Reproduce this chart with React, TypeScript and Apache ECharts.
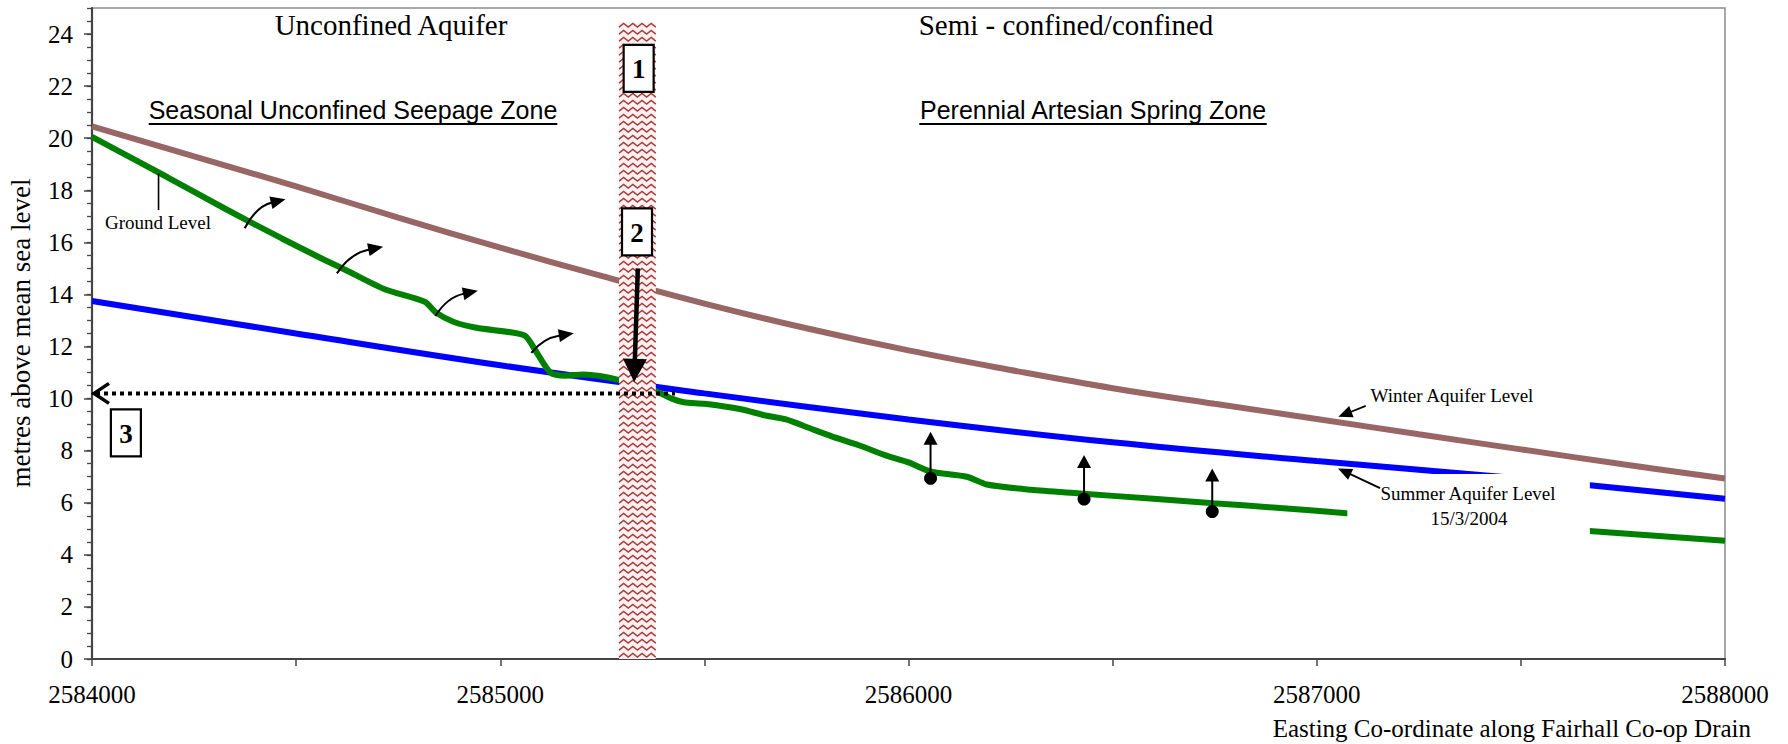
import React, { useEffect, useRef } from "react";
import * as echarts from "echarts";

// ---- axis ticks / labels ----
const xLabelValues = [2584000, 2585000, 2586000, 2587000, 2588000];
const yLabelValues = [0, 2, 4, 6, 8, 10, 12, 14, 16, 18, 20, 22, 24];

// ---- Winter aquifer level (brown) ----
const winterEasting = [2584000, 2584250, 2584500, 2584750, 2585000, 2585250, 2585500, 2585750, 2586000, 2586250, 2586500, 2586750, 2587000, 2587250, 2587500, 2587750, 2588000];
const winterLevel = [20.45, 19.3, 18.15, 16.95, 15.8, 14.7, 13.65, 12.7, 11.85, 11.1, 10.4, 9.8, 9.22, 8.63, 8.05, 7.48, 6.93];

// ---- Summer aquifer level 15/3/2004 (blue) ----
const summerEasting = [2584000, 2584500, 2585000, 2585500, 2586000, 2586500, 2587000, 2587500, 2588000];
const summerLevel = [13.75, 12.5, 11.28, 10.2, 9.2, 8.32, 7.6, 6.93, 6.15];

// ---- Ground level / drain (green) ----
const groundEasting = [2584000, 2584185, 2584325, 2584465, 2584560, 2584620, 2584717, 2584815, 2584843, 2584885, 2584941, 2585025, 2585062, 2585090, 2585123, 2585160, 2585203, 2585244, 2585289, 2585383, 2585420, 2585450, 2585500, 2585587, 2585650, 2585700, 2585760, 2585812, 2585880, 2585948, 2586000, 2586053, 2586143, 2586192, 2586300, 2586420, 2586600, 2586747, 2586910, 2587073, 2587668, 2588000];
const groundLevel = [20.05, 18.5, 17.3, 16.15, 15.4, 14.95, 14.2, 13.72, 13.3, 12.95, 12.72, 12.55, 12.4, 11.75, 11.0, 10.88, 10.93, 10.87, 10.72, 10.27, 10.0, 9.86, 9.8, 9.6, 9.35, 9.2, 8.85, 8.55, 8.2, 7.8, 7.55, 7.2, 7.0, 6.7, 6.5, 6.36, 6.15, 5.98, 5.8, 5.6, 4.92, 4.54];

// ---- annotations (data coordinates) ----
const bandFrom = [2585291];
const bandTo = [2585381];
const bandTop = [24.44];

const level3From = [2584000];
const level3To = [2585428];
const level3Value = [10.2];

const arrow2FromE = [2585337];
const arrow2FromV = [15.0];
const arrow2ToE = [2585328];
const arrow2ToV = [10.64];

const boxEasting = [2585339, 2585335, 2584083];
const boxLevel = [22.68, 16.4, 8.68];
const boxText = ["1", "2", "3"];

const riseEasting = [2586054, 2586430, 2586744];
const riseFrom = [6.94, 6.14, 5.66];
const riseTo = [8.73, 7.83, 7.32];

const curveFromE = [2584374, 2584600, 2584841, 2585076];
const curveFromV = [16.54, 14.81, 13.17, 11.76];
const curveToE = [2584474, 2584713, 2584945, 2585180];
const curveToV = [17.66, 15.83, 14.14, 12.51];

const calloutFromE = [2587120, 2587155];
const calloutFromV = [9.72, 6.56];
const calloutToE = [2587053, 2587052];
const calloutToV = [9.3, 7.32];

const groundCalloutE = [2584163];
const groundCalloutTop = [18.65];
const groundCalloutBottom = [17.24];

const maskFromE = [2587075];
const maskTop = [7.1];
const maskToE = [2587669];
const maskBottom = [4.4];

function headPoints(tx: number, ty: number, fx: number, fy: number, len: number, w: number) {
  const dx = tx - fx;
  const dy = ty - fy;
  const L = Math.hypot(dx, dy) || 1;
  const ux = dx / L;
  const uy = dy / L;
  const bx = tx - ux * len;
  const by = ty - uy * len;
  return {
    poly: [
      [tx, ty],
      [bx - (uy * w) / 2, by + (ux * w) / 2],
      [bx + (uy * w) / 2, by - (ux * w) / 2],
    ],
    base: [bx + ux * 1, by + uy * 1],
  };
}

function measure(text: string, font: string) {
  const c = document.createElement("canvas").getContext("2d");
  if (!c) return text.length * 12;
  c.font = font;
  return c.measureText(text).width;
}

export default function App() {
  const ref = useRef<HTMLDivElement>(null);

  useEffect(() => {
    if (!ref.current) return;
    const chart = echarts.init(ref.current, undefined, { renderer: "svg" });
    const serif = "Liberation Serif";
    const sans = "Liberation Sans";

    const zone1 = "Seasonal Unconfined Seepage Zone";
    const zone2 = "Perennial Artesian Spring Zone";
    const zoneFont = `25px "${sans}"`;
    const w1 = measure(zone1, zoneFont);
    const w2 = measure(zone2, zoneFont);
    const z1x = 353;
    const z2x = 1093;
    const zy = 110;

    const option: any = {
      animation: false,
      grid: {
        left: 92,
        right: 63,
        top: 8,
        bottom: 85,
        show: true,
        borderColor: "#8c8c8c",
        borderWidth: 1.5,
      },
      xAxis: {
        type: "value",
        min: 2584000,
        max: 2588000,
        interval: 500,
        axisLine: { show: true, onZero: false, lineStyle: { color: "#444", width: 2.2 } },
        axisTick: { show: true, length: 7, lineStyle: { color: "#444", width: 1.5 } },
        axisLabel: {
          customValues: xLabelValues,
          margin: 23,
          fontFamily: serif,
          fontSize: 25,
          color: "#000",
          formatter: (v: number) => String(v),
        },
        splitLine: { show: false },
      },
      yAxis: [
        {
          type: "value",
          min: 0,
          max: 25,
          position: "left",
          axisLine: { show: true, onZero: false, lineStyle: { color: "#444", width: 2.2 } },
          axisTick: { show: true, customValues: yLabelValues, length: 8, lineStyle: { color: "#444", width: 1.5 } },
          axisLabel: {
            customValues: yLabelValues,
            margin: 19,
            fontFamily: serif,
            fontSize: 25,
            color: "#000",
          },
          splitLine: { show: false },
        },
        {
          type: "value",
          min: 0,
          max: 25,
          interval: 0.5,
          position: "left",
          axisLine: { show: false },
          axisTick: { show: true, length: 5, lineStyle: { color: "#444", width: 1.3 } },
          axisLabel: { show: false },
          splitLine: { show: false },
        },
      ],
      series: [
        {
          name: "Winter Aquifer Level",
          type: "line",
          smooth: 0.4,
          showSymbol: false,
          z: 2,
          lineStyle: { color: "#996666", width: 6 },
          data: winterEasting.map((e, i) => [e, winterLevel[i]]),
        },
        {
          name: "Summer Aquifer Level 15/3/2004",
          type: "line",
          smooth: 0.4,
          showSymbol: false,
          z: 2,
          lineStyle: { color: "#0000ff", width: 6 },
          data: summerEasting.map((e, i) => [e, summerLevel[i]]),
        },
        {
          name: "Ground Level",
          type: "line",
          smooth: 0.25,
          showSymbol: false,
          z: 2,
          lineStyle: { color: "#008000", width: 6 },
          data: groundEasting.map((e, i) => [e, groundLevel[i]]),
        },
        {
          // white label mask over the lines
          type: "custom",
          z: 3,
          silent: true,
          encode: { x: [0, 2], y: [1, 3] },
          data: maskFromE.map((e, i) => [e, maskTop[i], maskToE[i], maskBottom[i]]),
          renderItem: (_p: any, api: any) => {
            const a = api.coord([api.value(0), api.value(1)]);
            const b = api.coord([api.value(2), api.value(3)]);
            return {
              type: "rect",
              shape: { x: a[0], y: a[1], width: b[0] - a[0], height: b[1] - a[1] },
              style: { fill: "#ffffff" },
            };
          },
        },
        {
          // hatched boundary band
          type: "custom",
          z: 4,
          silent: true,
          encode: { x: [0, 1], y: 2 },
          data: bandFrom.map((e, i) => [e, bandTo[i], bandTop[i]]),
          renderItem: (_p: any, api: any) => {
            const a = api.coord([api.value(0), api.value(2)]);
            const b = api.coord([api.value(1), 0]);
            const x0 = a[0];
            const x1 = b[0];
            const y0 = a[1];
            const y1 = b[1];
            const children: any[] = [
              { type: "rect", shape: { x: x0, y: y0, width: x1 - x0, height: y1 - y0 }, style: { fill: "#fcf0f0" } },
            ];
            const n = Math.max(2, Math.round((x1 - x0) / 4.6));
            const step = (x1 - x0) / n;
            for (let y = y0 + 4.5; y <= y1 - 1; y += 7) {
              const pts: number[][] = [];
              for (let k = 0; k <= n; k++) pts.push([x0 + k * step, k % 2 === 0 ? y : y - 3.6]);
              children.push({
                type: "polyline",
                shape: { points: pts },
                style: { stroke: "#a83a3a", lineWidth: 1.4, fill: "none" },
              });
            }
            return { type: "group", children };
          },
        },
        {
          // dotted level line "3"
          type: "custom",
          z: 5,
          silent: true,
          encode: { x: [0, 1], y: 2 },
          data: level3From.map((e, i) => [e, level3To[i], level3Value[i]]),
          renderItem: (_p: any, api: any) => {
            const a = api.coord([api.value(0), api.value(2)]);
            const b = api.coord([api.value(1), api.value(2)]);
            return {
              type: "group",
              children: [
                {
                  type: "line",
                  shape: { x1: a[0] + 4, y1: a[1], x2: b[0], y2: b[1] },
                  style: { stroke: "#000", lineWidth: 4, lineDash: [4, 4] },
                },
                {
                  type: "polyline",
                  shape: { points: [[a[0] + 17, a[1] - 10], [a[0] + 2, a[1]], [a[0] + 17, a[1] + 10]] },
                  style: { stroke: "#000", lineWidth: 3.5, fill: "none" },
                },
              ],
            };
          },
        },
        {
          // big arrow "2"
          type: "custom",
          z: 5,
          silent: true,
          encode: { x: [0, 2], y: [1, 3] },
          data: arrow2FromE.map((e, i) => [e, arrow2FromV[i], arrow2ToE[i], arrow2ToV[i]]),
          renderItem: (_p: any, api: any) => {
            const a = api.coord([api.value(0), api.value(1)]);
            const b = api.coord([api.value(2), api.value(3)]);
            const h = headPoints(b[0], b[1], a[0], a[1], 23, 24);
            return {
              type: "group",
              children: [
                { type: "line", shape: { x1: a[0], y1: a[1], x2: h.base[0], y2: h.base[1] }, style: { stroke: "#000", lineWidth: 4.5 } },
                { type: "polygon", shape: { points: h.poly }, style: { fill: "#000" } },
              ],
            };
          },
        },
        {
          // numbered boxes
          type: "custom",
          z: 6,
          silent: true,
          encode: { x: 0, y: 1 },
          data: boxEasting.map((e, i) => [e, boxLevel[i], boxText[i]]),
          renderItem: (_p: any, api: any) => {
            const c = api.coord([api.value(0), api.value(1)]);
            const w = 30;
            const h = 47;
            return {
              type: "group",
              children: [
                {
                  type: "rect",
                  shape: { x: c[0] - w / 2, y: c[1] - h / 2, width: w, height: h },
                  style: { fill: "#fff", stroke: "#000", lineWidth: 2.2 },
                },
                {
                  type: "text",
                  x: c[0],
                  y: c[1] + 1,
                  style: {
                    text: String(api.value(2)),
                    fontFamily: serif,
                    fontWeight: "bold",
                    fontSize: 27,
                    fill: "#000",
                    align: "center",
                    verticalAlign: "middle",
                  },
                },
              ],
            };
          },
        },
        {
          // curved arrows from drain towards ground surface
          type: "custom",
          z: 5,
          silent: true,
          encode: { x: [0, 2], y: [1, 3] },
          data: curveFromE.map((e, i) => [e, curveFromV[i], curveToE[i], curveToV[i]]),
          renderItem: (_p: any, api: any) => {
            const s = api.coord([api.value(0), api.value(1)]);
            const t = api.coord([api.value(2), api.value(3)]);
            const dx = t[0] - s[0];
            const dy = s[1] - t[1];
            const cp = [s[0] + 0.28 * dx, t[1] + 0.25 * dy];
            const h = headPoints(t[0], t[1], cp[0], cp[1], 15, 13);
            return {
              type: "group",
              children: [
                {
                  type: "bezierCurve",
                  shape: { x1: s[0], y1: s[1], x2: h.base[0], y2: h.base[1], cpx1: cp[0], cpy1: cp[1] },
                  style: { stroke: "#000", lineWidth: 2, fill: "none" },
                },
                { type: "polygon", shape: { points: h.poly }, style: { fill: "#000" } },
              ],
            };
          },
        },
        {
          // vertical rise arrows from measuring points
          type: "custom",
          z: 5,
          silent: true,
          encode: { x: 0, y: [1, 2] },
          data: riseEasting.map((e, i) => [e, riseFrom[i], riseTo[i]]),
          renderItem: (_p: any, api: any) => {
            const a = api.coord([api.value(0), api.value(1)]);
            const b = api.coord([api.value(0), api.value(2)]);
            const h = headPoints(b[0], b[1], a[0], a[1], 13, 14);
            return {
              type: "group",
              children: [
                { type: "line", shape: { x1: a[0], y1: a[1], x2: h.base[0], y2: h.base[1] }, style: { stroke: "#000", lineWidth: 2 } },
                { type: "polygon", shape: { points: h.poly }, style: { fill: "#000" } },
              ],
            };
          },
        },
        {
          type: "scatter",
          z: 6,
          silent: true,
          symbol: "circle",
          symbolSize: 13,
          itemStyle: { color: "#000", opacity: 1 },
          data: riseEasting.map((e, i) => [e, riseFrom[i]]),
        },
        {
          // callout arrows for Winter / Summer labels
          type: "custom",
          z: 5,
          silent: true,
          encode: { x: [0, 2], y: [1, 3] },
          data: calloutFromE.map((e, i) => [e, calloutFromV[i], calloutToE[i], calloutToV[i]]),
          renderItem: (_p: any, api: any) => {
            const a = api.coord([api.value(0), api.value(1)]);
            const b = api.coord([api.value(2), api.value(3)]);
            const h = headPoints(b[0], b[1], a[0], a[1], 14, 12);
            return {
              type: "group",
              children: [
                { type: "line", shape: { x1: a[0], y1: a[1], x2: h.base[0], y2: h.base[1] }, style: { stroke: "#000", lineWidth: 1.8 } },
                { type: "polygon", shape: { points: h.poly }, style: { fill: "#000" } },
              ],
            };
          },
        },
        {
          // Ground Level callout line
          type: "custom",
          z: 5,
          silent: true,
          encode: { x: 0, y: [1, 2] },
          data: groundCalloutE.map((e, i) => [e, groundCalloutTop[i], groundCalloutBottom[i]]),
          renderItem: (_p: any, api: any) => {
            const a = api.coord([api.value(0), api.value(1)]);
            const b = api.coord([api.value(0), api.value(2)]);
            return {
              type: "line",
              shape: { x1: a[0], y1: a[1], x2: b[0], y2: b[1] },
              style: { stroke: "#000", lineWidth: 1.6 },
            };
          },
        },
      ],
      graphic: [
        {
          type: "text",
          z: 100,
          x: 391,
          y: 25,
          style: { text: "Unconfined Aquifer", fontFamily: serif, fontSize: 29, fill: "#000", align: "center", verticalAlign: "middle" },
        },
        {
          type: "text",
          z: 100,
          x: 1066,
          y: 25,
          style: { text: "Semi - confined/confined", fontFamily: serif, fontSize: 29, fill: "#000", align: "center", verticalAlign: "middle" },
        },
        {
          type: "text",
          z: 100,
          x: z1x,
          y: zy,
          style: { text: zone1, fontFamily: sans, fontSize: 25, fill: "#000", align: "center", verticalAlign: "middle" },
        },
        {
          type: "line",
          z: 100,
          shape: { x1: z1x - w1 / 2, y1: zy + 14, x2: z1x + w1 / 2, y2: zy + 14 },
          style: { stroke: "#000", lineWidth: 1.8 },
        },
        {
          type: "text",
          z: 100,
          x: z2x,
          y: zy,
          style: { text: zone2, fontFamily: sans, fontSize: 25, fill: "#000", align: "center", verticalAlign: "middle" },
        },
        {
          type: "line",
          z: 100,
          shape: { x1: z2x - w2 / 2, y1: zy + 14, x2: z2x + w2 / 2, y2: zy + 14 },
          style: { stroke: "#000", lineWidth: 1.8 },
        },
        {
          type: "text",
          z: 100,
          x: 158,
          y: 222,
          style: { text: "Ground Level", fontFamily: serif, fontSize: 19, fill: "#000", align: "center", verticalAlign: "middle" },
        },
        {
          type: "text",
          z: 100,
          x: 1452,
          y: 395,
          style: { text: "Winter Aquifer Level", fontFamily: serif, fontSize: 19, fill: "#000", align: "center", verticalAlign: "middle" },
        },
        {
          type: "text",
          z: 100,
          x: 1468,
          y: 493,
          style: { text: "Summer Aquifer Level", fontFamily: serif, fontSize: 19, fill: "#000", align: "center", verticalAlign: "middle" },
        },
        {
          type: "text",
          z: 100,
          x: 1469,
          y: 518,
          style: { text: "15/3/2004", fontFamily: serif, fontSize: 19, fill: "#000", align: "center", verticalAlign: "middle" },
        },
        {
          type: "text",
          z: 100,
          x: 1751,
          y: 728,
          style: { text: "Easting Co-ordinate along Fairhall Co-op Drain", fontFamily: serif, fontSize: 25, fill: "#000", align: "right", verticalAlign: "middle" },
        },
        {
          type: "text",
          z: 100,
          x: 21,
          y: 333,
          rotation: Math.PI / 2,
          style: { text: "metres above mean sea level", fontFamily: serif, fontSize: 27, fill: "#000", align: "center", verticalAlign: "middle" },
        },
      ],
    };

    chart.setOption(option);
    return () => chart.dispose();
  }, []);

  return (
    <div
      ref={ref}
      style={{ position: "fixed", left: 0, top: 0, width: 1788, height: 744, background: "#fff" }}
    />
  );
}
